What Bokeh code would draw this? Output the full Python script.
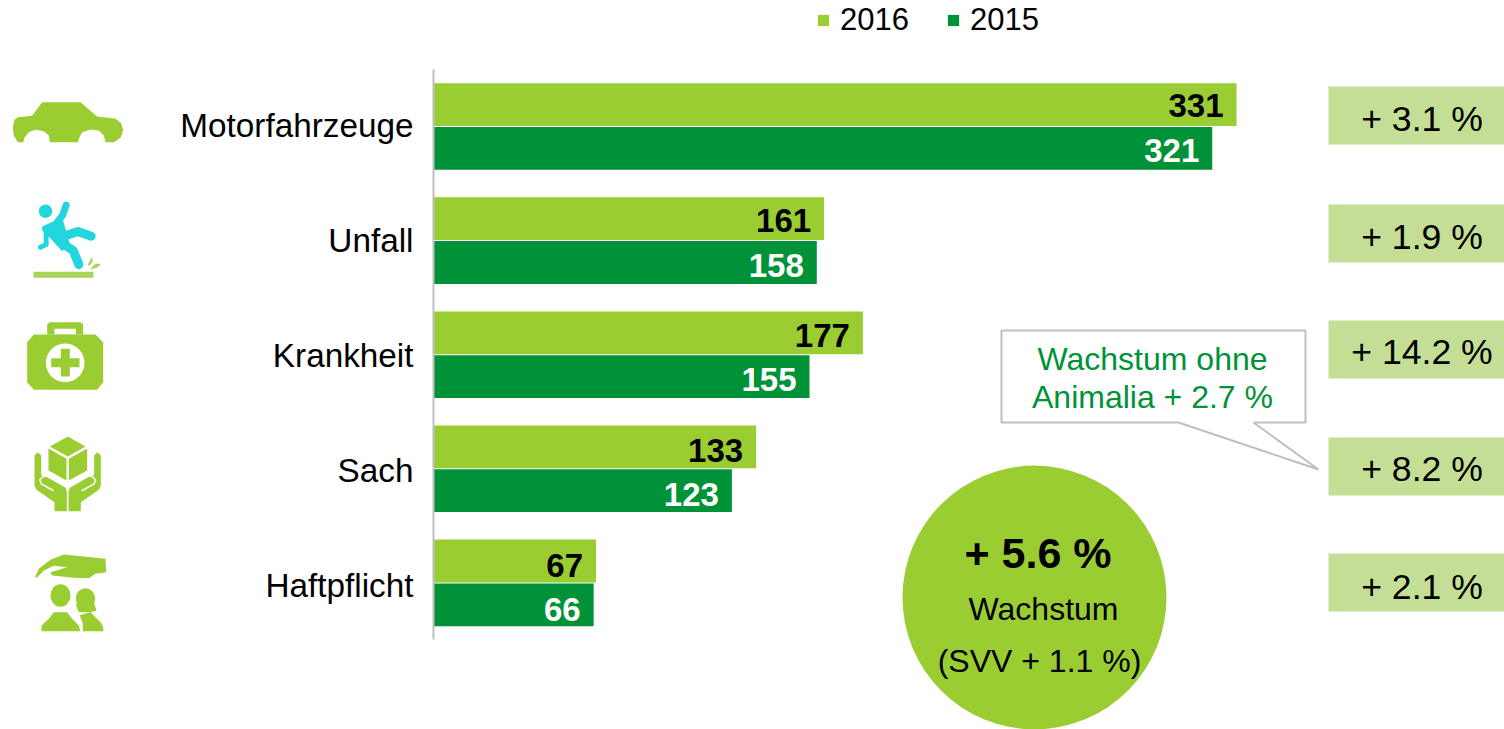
from bokeh.plotting import figure
from bokeh.embed import file_html
from bokeh.resources import INLINE
from bokeh.models import (ColumnDataSource, LinearAxis, FixedTicker, Range1d, Legend, LegendItem)
from bokeh.core.properties import value

categories = ["Motorfahrzeuge", "Unfall", "Krankheit", "Sach", "Haftpflicht"]
values_2016 = [331, 161, 177, 133, 67]
values_2015 = [321, 158, 155, 123, 66]
growth_labels = ["+ 3.1 %", "+ 1.9 %", "+ 14.2 %", "+ 8.2 %", "+ 2.1 %"]

LIGHT = "#9ACD32"
DARK = "#009239"
BOX = "#C5DE95"
GREY = "#BFBFBF"
CYAN = "#22D6DE"
FONT = value("Liberation Sans")

W, H = 1504, 729
X0, Y0 = 0, 0
PX_PER_UNIT = 803 / 331
AXIS_X = 433
ROW0 = 126
ROW = 114.1

p = figure(width=W, height=H, output_backend="svg", toolbar_location=None,
           x_axis_location=None, y_axis_location=None, min_border=0,
           x_range=Range1d((X0 - AXIS_X) / PX_PER_UNIT, (X0 + W - AXIS_X) / PX_PER_UNIT),
           y_range=Range1d((Y0 + H - ROW0) / ROW, (Y0 - ROW0) / ROW))
p.outline_line_color = None
p.grid.visible = False
p.extra_x_ranges["px"] = Range1d(X0, X0 + W)
p.extra_y_ranges["px"] = Range1d(Y0 + H, Y0)

rows = list(range(len(categories)))
src = ColumnDataSource(dict(
    y16=[r - 0.192 for r in rows], y15=[r + 0.192 for r in rows],
    v16=values_2016, v15=values_2015,
    t16=[str(v) for v in values_2016], t15=[str(v) for v in values_2015],
    off16=[1 + 0.8 * r for r in rows], off15=[2 + 0.6 * r for r in rows]))

b16 = p.hbar(y="y16", right="v16", left=0, height=0.375, fill_color=LIGHT, line_color=None, source=src)
b15 = p.hbar(y="y15", right="v15", left=0, height=0.375, fill_color=DARK, line_color=None, source=src)

p.text(x="v16", y="y16", text="t16", x_offset=-13, y_offset="off16", text_align="right", text_baseline="middle",
       text_font=FONT, text_font_style="bold", text_font_size="33px", text_color="#000000", source=src)
p.text(x="v15", y="y15", text="t15", x_offset=-13, y_offset="off15", text_align="right", text_baseline="middle",
       text_font=FONT, text_font_style="bold", text_font_size="33px", text_color="#FFFFFF", source=src)

# the category labels run on a slightly wider pitch than the bars in the reference
tick_pos = [round((125 + 115 * r - ROW0) / ROW, 4) for r in rows]
axis = LinearAxis(fixed_location=0, ticker=FixedTicker(ticks=tick_pos),
                  major_label_overrides={t: c for t, c in zip(tick_pos, categories)},
                  bounds=(-0.5, 4.5))
axis.major_tick_line_color = None
axis.minor_tick_line_color = None
axis.axis_line_color = GREY
axis.axis_line_width = 2
axis.major_label_standoff = 14
axis.major_label_text_font = "Liberation Sans"
axis.major_label_text_font_size = "33.3px"
axis.major_label_text_color = "#000000"
p.add_layout(axis, "left")

legend = Legend(items=[LegendItem(label="2016", renderers=[b16]), LegendItem(label="2015", renderers=[b15])],
                orientation="horizontal", location=(816, H - 38), glyph_width=14, glyph_height=14,
                label_standoff=10, spacing=37, padding=0, margin=0, border_line_color=None,
                background_fill_alpha=0, label_text_font="Liberation Sans", label_text_font_size="31px",
                label_text_color="#000000")
p.add_layout(legend)

PX = dict(x_range_name="px", y_range_name="px")

# growth boxes
box_y = [115, 233, 349, 466, 582]
p.rect(x=[1416] * 5, y=box_y, width=176, height=58, fill_color=BOX, line_color=None, **PX)
p.text(x=[1421.5] * 5, y=[118, 236, 351, 468, 586], text=growth_labels, text_align="center", text_baseline="middle",
       text_font=FONT, text_font_size="35.6px", text_color="#000000", **PX)

# callout
p.patch([1001, 1305, 1305, 1253, 1318, 1178, 1001], [330, 330, 422, 422, 469, 422, 422],
        fill_color="#FFFFFF", line_color=GREY, line_width=2, **PX)
p.text(x=[1152, 1152], y=[358, 396], text=["Wachstum ohne", "Animalia + 2.7 %"], text_align="center",
       text_baseline="middle", text_font=FONT, text_font_size="32px", text_color=DARK, **PX)

# circle
p.circle(x=[1034], y=[597], radius=132, radius_units="data", fill_color=LIGHT, line_color=None, **PX)
p.text(x=[1037.5], y=[552], text=["+ 5.6 %"], text_align="center", text_baseline="middle", text_font=FONT,
       text_font_style="bold", text_font_size="43px", text_color="#000000", **PX)
p.text(x=[1043], y=[608], text=["Wachstum"], text_align="center", text_baseline="middle", text_font=FONT,
       text_font_size="32px", text_color="#000000", **PX)
p.text(x=[1039], y=[660], text=["(SVV + 1.1 %)"], text_align="center", text_baseline="middle", text_font=FONT,
       text_font_size="32px", text_color="#000000", **PX)


def poly(pts, oy, color=LIGHT):
    p.patch([a / 3 for a, _ in pts], [oy + b / 3 for _, b in pts], fill_color=color, line_color=None, **PX)

def ell(cx, cy, rx, ry, oy, color=LIGHT):
    p.ellipse(x=[cx / 3], y=[oy + cy / 3], width=2 * rx / 3, height=2 * ry / 3, fill_color=color,
              line_color=None, **PX)

def stroke(pts, oy, w, color=LIGHT):
    p.line([a / 3 for a, _ in pts], [oy + b / 3 for _, b in pts], line_width=w, line_color=color,
           line_cap="round", line_join="round", **PX)

# car
poly([(37, 140), (42, 118), (52, 110), (95, 106), (125, 65), (240, 65), (290, 108), (345, 115), (362, 128),
      (368, 150), (360, 172), (340, 185), (315, 185), (310, 165), (295, 150), (270, 147), (245, 155), (235, 175),
      (232, 185), (148, 185), (145, 165), (130, 152), (105, 148), (85, 155), (72, 172), (68, 185), (52, 185),
      (40, 165)], 80)

# falling person
ell(135, 392, 20, 20, 80, CYAN)
poly([(125, 438), (165, 420), (185, 410), (195, 445), (208, 490), (185, 512), (148, 472), (125, 450)], 80, CYAN)
stroke([(170, 425), (186, 405), (197, 374)], 80, 7, CYAN)
stroke([(195, 495), (218, 510), (235, 552)], 80, 9, CYAN)
stroke([(190, 467), (232, 453), (272, 467)], 80, 9, CYAN)
stroke([(137, 450), (137, 492), (120, 500)], 80, 5, CYAN)
p.rect(x=[189 / 3], y=[80 + 583 / 3], width=60, height=6, fill_color="#A9D35A", line_color=None, **PX)
poly([(262, 552), (275, 528), (276, 545), (266, 556)], 80, "#A9D35A")
poly([(268, 566), (285, 550), (302, 550), (290, 562)], 80, "#A9D35A")

# medical kit
poly([(140, 72), (140, 42), (148, 35), (240, 35), (248, 42), (248, 72)], 310)
poly([(162, 55), (226, 55), (226, 72), (162, 72)], 310, "#FFFFFF")
poly([(80, 95), (100, 72), (285, 72), (308, 95), (308, 215), (290, 238), (100, 238), (80, 215)], 310)
ell(194, 157, 58, 58, 310, "#FFFFFF")
poly([(181, 115), (208, 115), (208, 143), (237, 143), (237, 170), (208, 170), (208, 198), (181, 198), (181, 170),
      (152, 170), (152, 143), (181, 143)], 310)

# box on hands
poly([(148, 408), (202, 378), (255, 408), (202, 438)], 310)
poly([(144, 414), (198, 445), (198, 510), (144, 480)], 310)
poly([(260, 414), (205, 445), (205, 510), (260, 480)], 310)
left_hand = [(102, 435), (112, 425), (122, 435), (122, 495), (135, 497), (195, 532), (199, 545), (199, 602),
             (162, 602), (162, 575), (108, 538), (102, 525)]
poly(left_hand, 310)
poly([(403 - a, b) for a, b in left_hand], 310)
stroke([(158, 540), (122, 520), (118, 508), (128, 498), (135, 497)], 310, 1.5, "#FFFFFF")
stroke([(245, 540), (281, 520), (285, 508), (275, 498), (268, 497)], 310, 1.5, "#FFFFFF")

# hand over people
poly([(103, 800), (115, 775), (150, 748), (190, 732), (315, 745), (317, 785), (285, 790), (265, 803), (220, 802),
      (155, 795), (150, 785), (200, 770), (160, 766), (130, 780), (110, 800)], 310)
ell(255, 865, 29, 32, 310)
poly([(222, 900), (232, 870), (278, 870), (288, 900), (270, 905), (240, 905)], 310)
poly([(232, 962), (232, 935), (235, 915), (270, 905), (300, 935), (308, 950), (308, 962)], 310)
poly([(118, 975), (118, 880), (225, 880), (247, 940), (247, 975)], 310, "#FFFFFF")
ell(180, 855, 30, 34, 310)
poly([(123, 962), (123, 945), (145, 925), (160, 905), (200, 905), (215, 925), (235, 945), (240, 962)], 310)

open("out.html", "w").write(file_html(p, INLINE))
